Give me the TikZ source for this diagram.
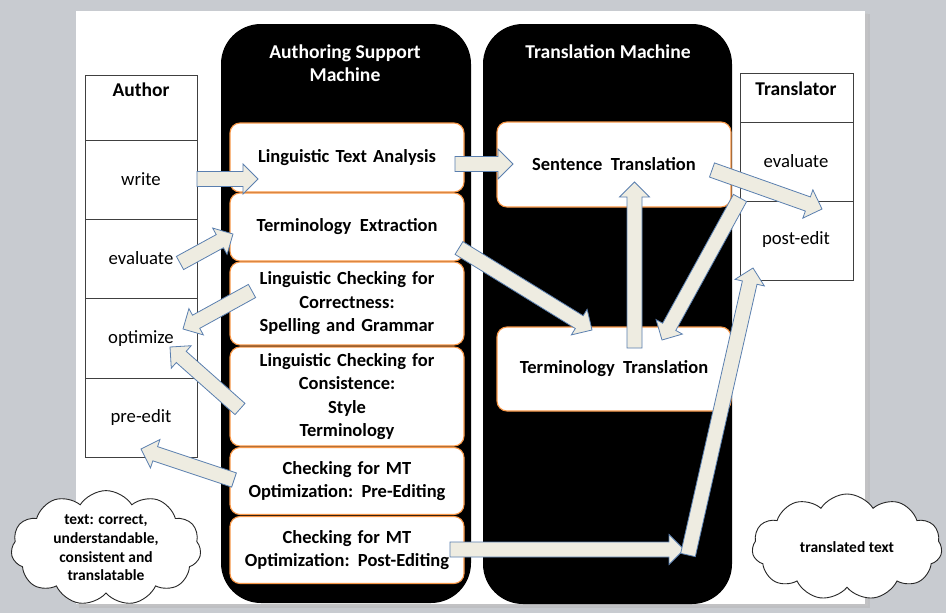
\documentclass[tikz,border=0pt]{standalone}
\usepackage{fontspec}
\setmainfont{Carlito}
\usetikzlibrary{calc,shapes.symbols}
\definecolor{bgray}{HTML}{C8CBD0}
\definecolor{orng}{HTML}{F79646}
\definecolor{afill}{HTML}{EEECE1}
\definecolor{aline}{HTML}{5A7FAF}
\newcommand{\blockarr}[2]{%
  \coordinate (ba-c) at ($(#2)!15pt!(#1)$);
  \filldraw[blockarrow] ($(#1)!7.5pt!90:(#2)$) -- ($(ba-c)!7.5pt!90:(#2)$) -- ($(ba-c)!15pt!90:(#2)$) -- (#2)
    -- ($(ba-c)!15pt!-90:(#2)$) -- ($(ba-c)!7.5pt!-90:(#2)$) -- ($(#1)!7.5pt!-90:(#2)$) -- cycle;%
}
\begin{document}
\begin{tikzpicture}[x=1pt,y=-1pt,
  blockarrow/.style={fill=afill,draw=aline,line width=0.8pt,line join=miter},
  panel/.style={fill=black,rounded corners=40pt},
  cell/.style={draw=black!75,line width=1pt,fill=white,rectangle,inner sep=0pt,anchor=north west},
  celltext/.style={font=\fontsize{18.7}{22}\selectfont,inner sep=0pt},
  headtext/.style={font=\fontsize{19.5}{22}\selectfont\bfseries,inner sep=0pt},
  mbox/.style={draw=orng,line width=1.1pt,fill=white,rounded corners=10pt,inner sep=0pt,align=center,
    font=\fontsize{18.5}{23.5}\selectfont\bfseries,text width=232pt},
  title/.style={text=white,align=center,font=\fontsize{19.6}{23}\selectfont\bfseries,inner sep=0pt},
  cloudy/.style={cloud,cloud puffs=11,cloud puff arc=115,aspect=1.75,draw=black!85,line width=0.9pt,fill=white,
    inner sep=0pt,align=center}]
\useasboundingbox (0,0) rectangle (946,613);
% background and slide
\fill[bgray] (0,0) rectangle (946,613);
\fill[black!30,opacity=0.45] (79,14) rectangle (870,608);
\fill[black!22,opacity=0.45] (78,13) rectangle (868,606);
\fill[white] (76,11) rectangle (865,604);
% machine panels
\fill[panel] (221,24) rectangle (471,603);
\fill[panel] (483,24) rectangle (732,604);
\node[title] (t1) at (345,63.5) {Authoring Support\\Machine};
\node[title] (t2) at (608,52) {Translation Machine};
% author table
\node[cell,minimum width=112pt,minimum height=65pt] (ah) at (85,75) {};
\node[cell,minimum width=112pt,minimum height=79pt] (aw) at (85,140) {};
\node[cell,minimum width=112pt,minimum height=79pt] (ae) at (85,219) {};
\node[cell,minimum width=112pt,minimum height=80pt] (ao) at (85,298) {};
\node[cell,minimum width=112pt,minimum height=79pt] (ap) at (85,378) {};
\node[headtext] (aht) at (141,90) {Author};
\node[celltext] (awt) at (141,179) {write};
\node[celltext] (aet) at (141,258) {evaluate};
\node[celltext] (aot) at (141,339) {optimize};
\node[celltext] (apt) at (141,418) {pre-edit};
% translator table
\node[cell,minimum width=113pt,minimum height=49pt] (th) at (740,73) {};
\node[cell,minimum width=113pt,minimum height=79pt] (te) at (740,122) {};
\node[cell,minimum width=113pt,minimum height=79pt] (tp) at (740,201) {};
\node[headtext] (tht) at (796,89) {Translator};
\node[celltext] (tet) at (796,161) {evaluate};
\node[celltext] (tpt) at (796,240) {post-edit};
% authoring boxes
\node[mbox,minimum width=234pt,minimum height=69pt] (b1) at (347,157.5) {Linguistic Text Analysis};
\node[mbox,minimum width=234pt,minimum height=68pt] (b2) at (347,227) {Terminology\hspace{0.45em}Extraction};
\node[mbox,minimum width=234pt,minimum height=83pt] (b3) at (347,303.5) {Linguistic Checking for\\Correctness:\\Spelling and Grammar};
\node[mbox,minimum width=234pt,minimum height=99pt] (b4) at (347,396.5) {Linguistic Checking for\\Consistence:\\Style\\Terminology};
\node[mbox,minimum width=234pt,minimum height=67pt] (b5) at (347,481) {Checking for MT\\Optimization:\hspace{0.45em}Pre-Editing};
\node[mbox,minimum width=234pt,minimum height=67pt] (b6) at (347,550) {Checking for MT\\Optimization:\hspace{0.45em}Post-Editing};
% translation boxes
\node[mbox,minimum width=234pt,minimum height=85pt] (st) at (614,164.5) {Sentence\hspace{0.45em}Translation};
\node[mbox,minimum width=234pt,minimum height=84pt] (tt) at (614,369) {Terminology\hspace{0.45em}Translation};
% clouds
\node[cloudy,minimum width=190pt,minimum height=106pt,font=\fontsize{15.5}{18.7}\selectfont\bfseries] (c1) at (106,548)
  {text: correct,\\understandable,\\consistent and\\translatable};
\node[cloudy,minimum width=190pt,minimum height=106pt,font=\fontsize{15.5}{18}\selectfont\bfseries] (c2) at (847,547)
  {translated text};
% arrow end points
\coordinate (w0) at (197,179);   \coordinate (w1) at (258,179);
\coordinate (e0) at (180,263);   \coordinate (e1) at (233,234);
\coordinate (o0) at (252,291);   \coordinate (o1) at (183,329);
\coordinate (q0) at (240,409);   \coordinate (q1) at (170,347);
\coordinate (p0) at (234,480);   \coordinate (p1) at (141,449);
\coordinate (s0) at (455,164);   \coordinate (s1) at (513,164);
\coordinate (x0) at (459,248);   \coordinate (x1) at (592,330);
\coordinate (u0) at (634.5,348); \coordinate (u1) at (634.5,182);
\coordinate (r0) at (740,198);   \coordinate (r1) at (662,340);
\coordinate (v0) at (712,170);   \coordinate (v1) at (822,209);
\coordinate (h0) at (450,549.5); \coordinate (h1) at (684,549.5);
\coordinate (d0) at (688,555);   \coordinate (d1) at (753,268);
% arrows
\blockarr{w0}{w1}
\blockarr{e0}{e1}
\blockarr{o0}{o1}
\blockarr{q0}{q1}
\blockarr{p0}{p1}
\blockarr{s0}{s1}
\blockarr{x0}{x1}
\blockarr{u0}{u1}
\blockarr{r0}{r1}
\blockarr{v0}{v1}
\blockarr{h0}{h1}
\blockarr{d0}{d1}
\end{tikzpicture}
\end{document}
